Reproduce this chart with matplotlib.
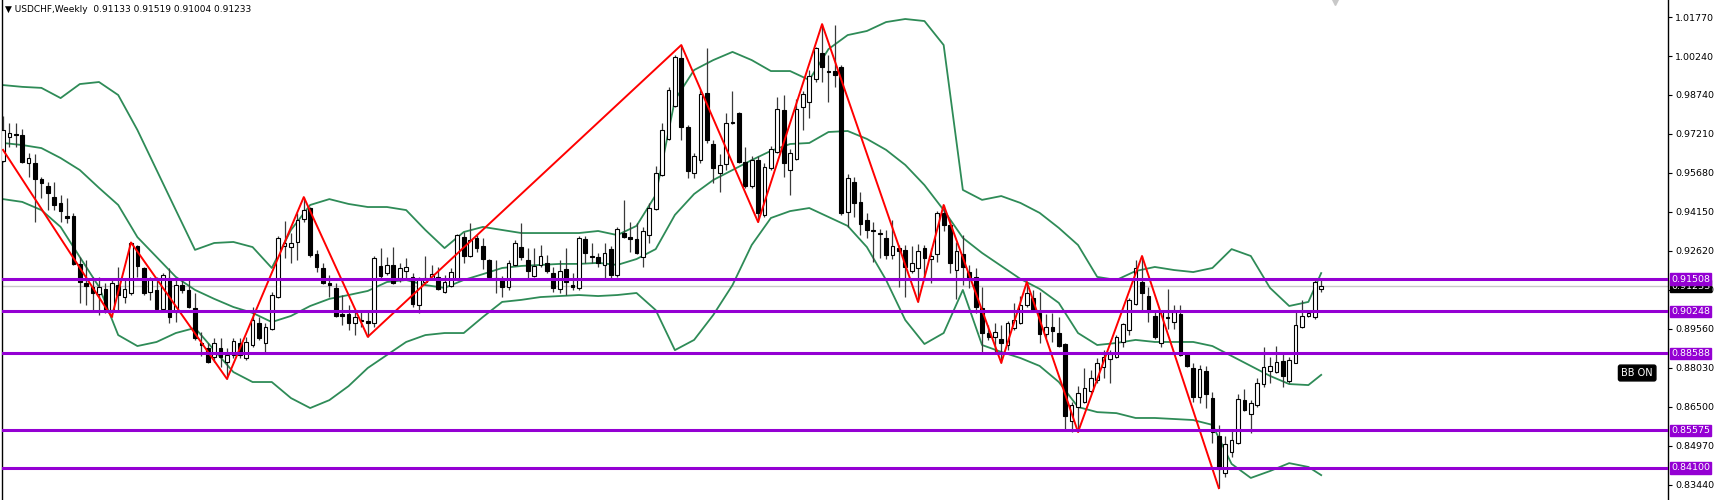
import numpy as np
import matplotlib
matplotlib.use('Agg')
import matplotlib.pyplot as plt
import matplotlib.transforms as mtransforms

# ---------------- data (USDCHF weekly) ----------------
opens = [.9613, .9708, .9719, .9715, .9606, .9606, .9543, .9515, .9472, .9449,
         .9398, .9398, .9210, .9135, .9120, .9092, .9112, .9029, .9127, .9080,
         .9096, .9280, .9194, .9100, .9108, .9033, .9155, .9022, .9127, .9108,
         .9037, .8900, .8880, .8845, .8880, .8826, .8853, .8900, .8841, .8892,
         .8978, .8900, .8955, .9080, .9280, .9276, .9296, .9386, .9429, .9249,
         .9194, .9135, .9116, .9014, .9014, .8978, .8990, .8986, .8978, .9202,
         .9174, .9206, .9155, .9182, .9159, .9049, .9139, .9155, .9159, .9100,
         .9123, .9151, .9315, .9241, .9312, .9280, .9225, .9155, .9151, .9120,
         .9206, .9276, .9225, .9163, .9206, .9214, .9174, .9112, .9190, .9127,
         .9116, .9308, .9241, .9237, .9206, .9268, .9167, .9331, .9315, .9308,
         .9237, .9323, .9425, .9558, .9700, .9829, 1.0017, .9747, .9566, .9617,
         .9880, .9680, .9566, .9602, .9766, .9802, .9610, .9515, .9617, .9402,
         .9586, .9649, .9813, .9578, .9621, .9825, .9845, .9935, 1.0037, .9966,
         .9966, .9982, .9413, .9531, .9453, .9382, .9339, .9327, .9312, .9245,
         .9272, .9264, .9182, .9194, .9272, .9229, .9249, .9410, .9363, .9186,
         .9249, .9178, .9159, .9037, .8939, .8924, .8916, .8892, .8959, .8978,
         .9049, .9076, .9018, .8935, .8963, .8939, .8896, .8594, .8649, .8670,
         .8712, .8755, .8806, .8837, .8845, .8904, .8951, .9053, .9139, .9084,
         .9006, .8900, .9002, .8982, .9014, .8857, .8802, .8688, .8790, .8684,
         .8535, .8390, .8473, .8508, .8676, .8622, .8657, .8739, .8790, .8786,
         .8829, .8751, .8822, .8963, .9006, .9002, .91133]
highs = [.9790, .9762, .9762, .9739, .9645, .9641, .9551, .9531, .9531, .9480,
         .9468, .9410, .9237, .9225, .9159, .9159, .9135, .9147, .9198, .9155,
         .9294, .9284, .9198, .9159, .9159, .9174, .9194, .9155, .9155, .9147,
         .9096, .8943, .8900, .8920, .8920, .8880, .8920, .8920, .8924, .9041,
         .9002, .8978, .9100, .9319, .9378, .9331, .9410, .9472, .9433, .9265,
         .9214, .9167, .9135, .9088, .9049, .9029, .9022, .9029, .9241, .9272,
         .9237, .9276, .9214, .9233, .9174, .9159, .9241, .9206, .9198, .9167,
         .9194, .9327, .9335, .9370, .9323, .9312, .9229, .9225, .9163, .9225,
         .9304, .9370, .9272, .9272, .9284, .9245, .9198, .9225, .9272, .9174,
         .9319, .9319, .9292, .9253, .9292, .9280, .9355, .9461, .9374, .9370,
         .9355, .9449, .9594, .9762, .9904, 1.0029, 1.0068, .9755, .9645, .9892,
         1.0056, .9696, .9641, .9802, .9888, .9805, .9668, .9633, .9633, .9606,
         .9672, .9864, .9872, .9660, .9856, .9888, .9970, 1.0060, 1.0150, 1.0029,
         1.0145, .9990, .9562, .9551, .9492, .9410, .9374, .9347, .9343, .9382,
         .9284, .9284, .9280, .9288, .9284, .9272, .9417, .9441, .9382, .9296,
         .9323, .9206, .9194, .9120, .8971, .8978, .8971, .8986, .9057, .9084,
         .9139, .9108, .9100, .9014, .9018, .9002, .8900, .8670, .8731, .8802,
         .8794, .8841, .8873, .8873, .8931, .8978, .9076, .9225, .9241, .9120,
         .9029, .9029, .9112, .9049, .9049, .8865, .8822, .8814, .8810, .8708,
         .8578, .8535, .8555, .8700, .8720, .8676, .8763, .8884, .8845, .8888,
         .8857, .8845, .9029, .9069, .9029, .9147, .91519]
lows = [.9610, .9668, .9668, .9606, .9551, .9374, .9468, .9421, .9421, .9374,
        .9370, .9206, .9057, .9049, .9029, .9010, .9018, .9002, .9029, .9057,
        .9088, .9159, .9088, .9069, .9029, .9029, .8978, .8982, .9096, .9037,
        .8912, .8849, .8822, .8826, .8806, .8759, .8841, .8841, .8833, .8884,
        .8912, .8865, .8951, .9076, .9233, .9214, .9225, .9374, .9237, .9178,
        .9131, .9080, .9002, .8971, .8951, .8931, .8963, .8924, .8963, .9147,
        .9167, .9131, .9139, .9147, .9041, .9018, .9131, .9147, .9108, .9096,
        .9120, .9147, .9214, .9237, .9257, .9190, .9151, .9096, .9080, .9108,
        .9202, .9225, .9155, .9159, .9198, .9174, .9100, .9096, .9088, .9108,
        .9108, .9214, .9214, .9198, .9155, .9155, .9159, .9312, .9257, .9249,
        .9198, .9292, .9421, .9555, .9696, .9825, .9696, .9547, .9547, .9606,
        .9684, .9527, .9492, .9578, .9758, .9606, .9508, .9508, .9374, .9394,
        .9578, .9645, .9551, .9480, .9617, .9735, .9782, .9925, .9925, .9845,
        .9904, .9402, .9355, .9394, .9323, .9312, .9218, .9233, .9229, .9229,
        .9120, .9080, .9174, .9061, .9147, .9135, .9218, .9339, .9174, .9072,
        .9127, .9116, .9018, .8861, .8912, .8861, .8822, .8873, .8951, .8975,
        .9041, .9022, .8900, .8920, .8904, .8884, .8559, .8552, .8551, .8664,
        .8704, .8743, .8763, .8743, .8841, .8884, .8931, .9049, .9029, .8982,
        .8916, .8884, .8955, .8955, .8849, .8806, .8669, .8665, .8645, .8508,
        .8331, .8374, .8453, .8504, .8633, .8546, .8649, .8727, .8743, .8782,
        .8727, .8743, .8820, .8959, .9002, .8994, .91004]
closes = [.9735, .9723, .9715, .9610, .9625, .9543, .9527, .9488, .9441, .9417,
          .9390, .9210, .9139, .9123, .9096, .9120, .9029, .9135, .9088, .9112,
          .9292, .9202, .9096, .9151, .9033, .9167, .9002, .9127, .9108, .9041,
          .8920, .8892, .8826, .8900, .8845, .8853, .8908, .8853, .8904, .8990,
          .8920, .8963, .9088, .9312, .9292, .9292, .9382, .9421, .9245, .9198,
          .9135, .9127, .9006, .9006, .8978, .9002, .8986, .8978, .9233, .9163,
          .9206, .9135, .9194, .9196, .9053, .9151, .9155, .9170, .9112, .9139,
          .9178, .9323, .9241, .9304, .9272, .9229, .9159, .9151, .9120, .9214,
          .9292, .9237, .9182, .9202, .9241, .9182, .9116, .9182, .9139, .9120,
          .9312, .9253, .9237, .9214, .9253, .9167, .9347, .9315, .9308, .9253,
          .9339, .9429, .9566, .9735, .9892, 1.0021, .9747, .9574, .9633, .9876,
          .9696, .9586, .9598, .9762, .9762, .9610, .9515, .9617, .9410, .9590,
          .9660, .9817, .9606, .9645, .9817, .9876, .9947, 1.0056, .9982, .9962,
          .9950, .9410, .9547, .9449, .9366, .9343, .9343, .9331, .9245, .9280,
          .9261, .9198, .9214, .9261, .9233, .9241, .9410, .9363, .9214, .9261,
          .9198, .9155, .9041, .8939, .8924, .8943, .8900, .8978, .8990, .9049,
          .9096, .9029, .8935, .8963, .8947, .8888, .8614, .8657, .8704, .8724,
          .8763, .8822, .8845, .8857, .8924, .8974, .9069, .9194, .9096, .9022,
          .8924, .9022, .8998, .9022, .8853, .8810, .8688, .8798, .8700, .8551,
          .8406, .8504, .8520, .8680, .8637, .8664, .8743, .8806, .8810, .8826,
          .8771, .8833, .8971, .9006, .9018, .9139, .91233]

# Bollinger bands (20,2) read every third bar
bb_idx = list(range(0, 205, 3)) + [206]
bb_upper = [.9911, .9904, .9900, .9860, .9915, .9923, .9872, .9735, .9578, .9421,
            .9265, .9292, .9296, .9276, .9194, .9343, .9441, .9464, .9445, .9433,
            .9433, .9421, .9343, .9272, .9335, .9355, .9343, .9331, .9331, .9331,
            .9331, .9339, .9323, .9359, .9480, .9853, .9970, 1.0009, 1.0041, 1.0009,
            .9966, .9966, .9931, 1.0052, 1.0107, 1.0123, 1.0158, 1.0170, 1.0162, 1.0068,
            .9500, .9461, .9476, .9449, .9410, .9351, .9284, .9159, .9147, .9182,
            .9198, .9186, .9178, .9194, .9268, .9241, .9116, .9045, .9061, .9174]
bb_middle = [.9684, .9676, .9664, .9625, .9578, .9508, .9441, .9315, .9237, .9159,
             .9108, .9073, .9041, .9018, .8982, .9006, .9045, .9073, .9088, .9104,
             .9139, .9147, .9127, .9116, .9147, .9170, .9194, .9202, .9206, .9210,
             .9210, .9214, .9206, .9229, .9268, .9402, .9484, .9539, .9578, .9617,
             .9653, .9680, .9684, .9727, .9731, .9700, .9657, .9598, .9519, .9421,
             .9312, .9253, .9202, .9151, .9112, .9057, .8939, .8892, .8900, .8912,
             .8904, .8904, .8904, .8888, .8849, .8810, .8771, .8739, .8735, .8775]
bb_lower = [.9464, .9453, .9421, .9355, .9237, .9120, .8931, .8888, .8904, .8939,
            .8959, .8872, .8786, .8747, .8747, .8684, .8645, .8676, .8731, .8802,
            .8853, .8904, .8931, .8939, .8939, .9002, .9061, .9069, .9080, .9084,
            .9088, .9084, .9088, .9096, .9029, .8872, .8912, .9010, .9127, .9284,
            .9390, .9417, .9429, .9394, .9359, .9276, .9147, .8990, .8896, .8939,
            .9108, .8892, .8865, .8841, .8810, .8747, .8649, .8629, .8625, .8606,
            .8606, .8602, .8598, .8579, .8426, .8371, .8398, .8429, .8414, .8382]

# zigzag pivots
zz_idx = [0, 17, 20, 35, 47, 57, 106, 118, 128, 143, 147, 156, 160, 168, 178, 190]
zz_price = [.9657, .9002, .9294, .8759, .9472, .8924, 1.0068, .9374, 1.0150,
            .9061, .9441, .8822, .9139, .8551, .9241, .8331]

levels = [0.91508, 0.90248, 0.88588, 0.85575, 0.84100]
tick_vals = [1.01770, 1.00240, 0.98740, 0.97210, 0.95680, 0.94150, 0.92620,
             0.91090, 0.89560, 0.88030, 0.86500, 0.84970, 0.83440]
last_price = 0.91233

# ---------------- drawing ----------------
plt.rcParams['font.family'] = ['DejaVu Sans']
fig = plt.figure(figsize=(17.2, 5.0), dpi=100)
ax = fig.add_axes([2 / 1720, 0.0, 1666 / 1720, 1.0])

x = np.arange(len(closes))
o = np.array(opens)
c = np.array(closes)
h = np.array(highs)
l = np.array(lows)
up = c >= o

purple = '#9400d3'
green = '#2e8b57'

ax.axhline(last_price, color='#c8c8c8', lw=1.0, zorder=1)

ax.plot(bb_idx, bb_upper, color=green, lw=1.3, zorder=2)
ax.plot(bb_idx, bb_middle, color=green, lw=1.3, zorder=2)
ax.plot(bb_idx, bb_lower, color=green, lw=1.3, zorder=2)

ax.vlines(x, l, h, color='#3a3a3a', lw=0.9, zorder=3)
body_lo = np.minimum(o, c)
body_h = np.maximum(np.abs(c - o), 0.00015)
ax.bar(x[up], body_h[up], bottom=body_lo[up], width=0.58, color='white',
       edgecolor='black', linewidth=0.8, zorder=4)
ax.bar(x[~up], body_h[~up], bottom=body_lo[~up], width=0.58, color='black',
       edgecolor='black', linewidth=0.8, zorder=4)

ax.plot(zz_idx, zz_price, color='#ff0000', lw=1.4, zorder=5)

for lv in levels:
    ax.axhline(lv, color=purple, lw=2.2, zorder=6)

ax.set_xlim(-0.16, 260.2)
ax.set_ylim(0.82845, 1.02445)
ax.set_xticks([])

ax.yaxis.tick_right()
ax.set_yticks(tick_vals)
ax.set_yticklabels(['%.5f' % v for v in tick_vals])
ax.tick_params(axis='y', direction='out', length=3, width=0.8, pad=2,
               labelsize=6.8, colors='black')
for s in ['top', 'bottom']:
    ax.spines[s].set_visible(False)
ax.spines['left'].set_linewidth(1.0)
ax.spines['right'].set_linewidth(1.0)

trans = mtransforms.blended_transform_factory(ax.transAxes, ax.transData)
ax.text(1.0 + 3 / 1666, last_price, '%.5f' % last_price, transform=trans,
        ha='left', va='center', fontsize=6.8, color='white', clip_on=False,
        bbox=dict(boxstyle='square,pad=0.12', fc='black', ec='black'), zorder=7)
for lv in levels:
    ax.text(1.0 + 3 / 1666, lv, '%.5f' % lv, transform=trans, ha='left',
            va='center', fontsize=6.8, color='white', clip_on=False,
            bbox=dict(boxstyle='square,pad=0.12', fc=purple, ec=purple), zorder=8)

ax.text(0.9815, 0.254, 'BB ON', transform=ax.transAxes, ha='center', va='center',
        fontsize=7, color='white',
        bbox=dict(boxstyle='round,pad=0.3,rounding_size=0.2', fc='black', ec='black'),
        zorder=9)

ax.plot([208.1], [1.02445], marker='v', color='#c8c8c8', ms=7, clip_on=False, zorder=9)

fig.text(5 / 1720, 1 - 10 / 500, '\u25BC USDCHF,Weekly  0.91133 0.91519 0.91004 0.91233',
         fontsize=6.5, va='center', ha='left', color='black')

fig.savefig('out.png', dpi=100, facecolor='white')
